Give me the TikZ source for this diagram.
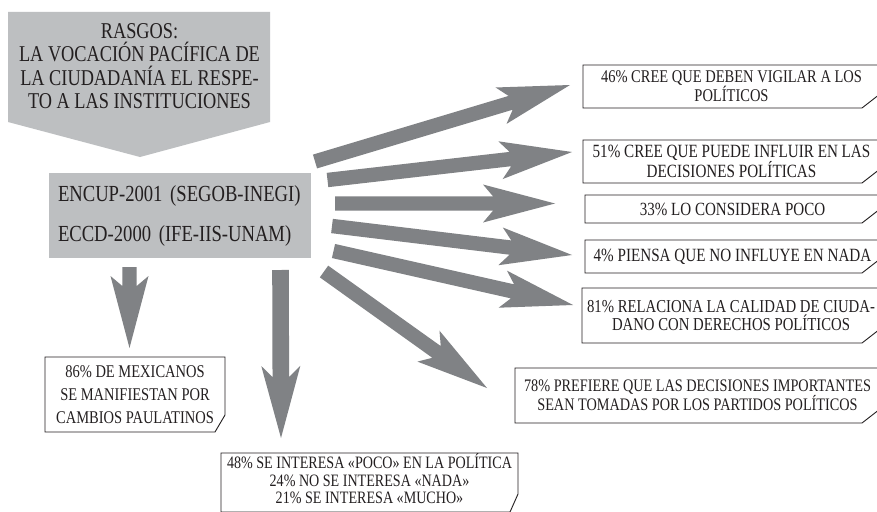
\documentclass[tikz,border=0pt]{standalone}
\usepackage{fontspec}
\setmainfont{Liberation Serif}[FakeStretch=0.81]
\usetikzlibrary{calc}
\definecolor{lightfill}{HTML}{BDBFC1}
\definecolor{arrowfill}{HTML}{808285}
\definecolor{ink}{HTML}{231F20}
% #1 tail, #2 tip, #3 shaft half width, #4 head half width, #5 head length, #6 distance tip->shaft junction
\newcommand\blockarrow[6]{%
  \coordinate (baq) at ($(#2)!#5!(#1)$);
  \coordinate (bap) at ($(#2)!#6!(#1)$);
  \fill[arrowfill] ($(#1)!#3!90:(#2)$) -- ($(bap)!#3!90:(#2)$) -- ($(baq)!#4!90:(#2)$) -- (#2)
    -- ($(baq)!#4!-90:(#2)$) -- ($(bap)!#3!-90:(#2)$) -- ($(#1)!#3!-90:(#2)$) -- cycle;}
\newcommand\stdarrow[2]{\blockarrow{#1}{#2}{7.2pt}{19pt}{72pt}{62pt}}
% box outline with cut south-east corner: node, cut dx, cut dy
\newcommand\cutbox[3]{%
  \draw[boxline] (#1.north west) -- (#1.north east) -- ($(#1.south east)+(0,-#3)$)
    -- ($(#1.south east)+(-#2,0)$) -- (#1.south west) -- cycle;}
\newcommand\fs[1]{\fontsize{#1}{18.8}\selectfont}
\begin{document}
\begin{tikzpicture}[x=1pt,y=-1pt,
  boxtext/.style={font=\fs{18.2}, align=center, inner sep=0pt, outer sep=0pt, text=ink},
  boxline/.style={draw=ink, line width=0.9pt, line join=miter}]
\useasboundingbox (0,0) rectangle (877,511);
\clip (0,0) rectangle (877,511);
\fill[white] (0,0) rectangle (877,511);

% top pentagon
\fill[lightfill] (8,12) -- (270,12) -- (270,122) -- (140,157) -- (8,122) -- cycle;
\node[font=\fontsize{22.6}{23.3}\selectfont, align=center, text=ink, inner sep=0pt] (rasgos) at (139.5,66)
  {RASGOS:\\LA VOCACIÓN PACÍFICA DE\\LA CIUDADANÍA EL RESPE-\\TO A LAS INSTITUCIONES};

% survey box
\node[fill=lightfill, minimum width=262pt, minimum height=85pt, text width=244pt, inner xsep=9pt, inner ysep=0pt,
  align=left, font=\fontsize{23}{40}\selectfont, text=ink] (encup) at (180,215.5)
  {ENCUP-2001 (SEGOB-INEGI)\\ECCD-2000 (IFE-IIS-UNAM)};

% arrow end points
\coordinate (d1t) at (129.5,267); \coordinate (d1h) at (129.5,348);
\coordinate (d2t) at (280.5,270); \coordinate (d2h) at (281,438);
\coordinate (a1t) at (315,161.5); \coordinate (a1h) at (570,85);
\coordinate (a2t) at (327.5,180); \coordinate (a2h) at (572,152);
\coordinate (a3t) at (335,203.5); \coordinate (a3h) at (555,203.5);
\coordinate (a4t) at (332,226);   \coordinate (a4h) at (572,255);
\coordinate (a5t) at (333.5,251); \coordinate (a5h) at (573,305);
\coordinate (a6t) at (324,271.5); \coordinate (a6h) at (487,388);

\stdarrow{d1t}{d1h}
\blockarrow{d2t}{d2h}{8.3pt}{19.5pt}{72pt}{61pt}
\stdarrow{a1t}{a1h}
\stdarrow{a2t}{a2h}
\stdarrow{a3t}{a3h}
\stdarrow{a4t}{a4h}
\stdarrow{a5t}{a5h}
\stdarrow{a6t}{a6h}

% right boxes
\node[boxtext, font=\fs{17.9}, minimum width=297pt, minimum height=43pt] (b46) at (731.5,86.5)
  {46\% CREE QUE DEBEN VIGILAR A LOS\\POLÍTICOS};
\node[boxtext, font=\fs{18.7}, minimum width=297pt, minimum height=43pt] (b51) at (731.5,161.5)
  {51\% CREE QUE PUEDE INFLUIR EN LAS\\DECISIONES POLÍTICAS};
\node[boxtext, font=\fs{18.6}, minimum width=295pt, minimum height=28pt] (b33) at (732.5,209)
  {33\% LO CONSIDERA POCO};
\node[boxtext, font=\fs{18.7}, minimum width=295pt, minimum height=33pt] (b4) at (732.5,256.5)
  {4\% PIENSA QUE NO INFLUYE EN NADA};
\node[boxtext, font=\fs{18.2}, minimum width=298pt, minimum height=55pt] (b81) at (731,315.5)
  {81\% RELACIONA LA CALIDAD DE CIUDA-\\DANO CON DERECHOS POLÍTICOS};
\node[boxtext, font=\fs{17.6}, minimum width=365pt, minimum height=55pt] (b78) at (697.5,395.5)
  {78\% PREFIERE QUE LAS DECISIONES IMPORTANTES\\SEAN TOMADAS POR LOS PARTIDOS POLÍTICOS};
\foreach \b in {b46,b51,b33,b4,b81,b78} {\cutbox{\b}{18}{14}}

% lower boxes
\node[boxtext, font=\fontsize{17.9}{23}\selectfont, minimum width=180pt, minimum height=75pt] (b86) at (135,394.5)
  {86\% DE MEXICANOS\\SE MANIFIESTAN POR\\CAMBIOS PAULATINOS};
\cutbox{b86}{10}{17}
\node[boxtext, font=\fontsize{17.4}{17.5}\selectfont, minimum width=297pt, minimum height=52pt] (b48) at (369.5,479)
  {48\% SE INTERESA «POCO» EN LA POLÍTICA\\24\% NO SE INTERESA «NADA»\\21\% SE INTERESA «MUCHO»};
\draw[boxline] (b48.north west) -- (b48.north east) -- ($(b48.north east)+(0,41)$)
  -- ($(b48.north east)+(-8,59)$) -- ($(b48.north west)+(0,59)$) -- cycle;
\end{tikzpicture}
\end{document}
